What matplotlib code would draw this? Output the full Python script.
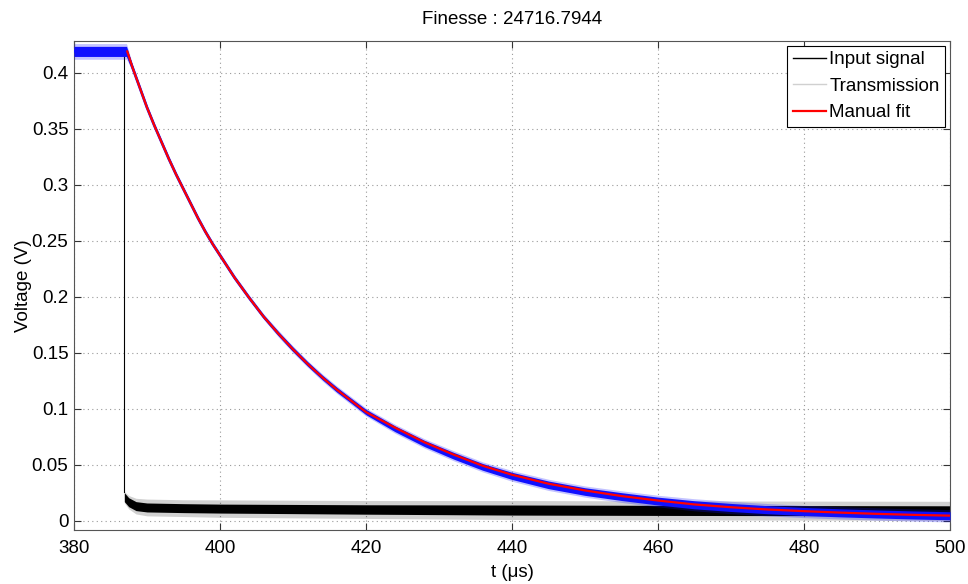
import matplotlib
matplotlib.use("Agg")
import matplotlib.pyplot as plt
from matplotlib.lines import Line2D
import numpy as np

plt.rcParams['font.family'] = ['Liberation Sans', 'DejaVu Sans']

# ---- data ----
title_text = "Finesse : 24716.7944"
x_label = "t (\u03bcs)"
y_label = "Voltage (V)"
x_ticks = [380, 400, 420, 440, 460, 480, 500]
y_ticks = [0, 0.05, 0.1, 0.15, 0.2, 0.25, 0.3, 0.35, 0.4]
y_tick_labels = ["0", "0.05", "0.1", "0.15", "0.2", "0.25", "0.3", "0.35", "0.4"]
legend_labels = ["Input signal", "Transmission", "Manual fit"]

# Manual fit (red)
fit_t = [387.3, 388, 389, 390, 391, 392, 393, 394, 395, 396, 397, 398, 399, 400,
         402, 404, 406, 408, 410, 412, 414, 416, 418, 420, 424, 428, 432, 436,
         440, 445, 450, 455, 460, 465, 470, 475, 480, 485, 490, 495, 500]
fit_v = [0.419, 0.405, 0.387, 0.369, 0.353, 0.338, 0.323, 0.309, 0.296, 0.283,
         0.270, 0.258, 0.247, 0.237, 0.217, 0.199, 0.182, 0.167, 0.153, 0.140,
         0.128, 0.117, 0.107, 0.097, 0.083, 0.070, 0.059, 0.049, 0.041, 0.033,
         0.027, 0.022, 0.018, 0.0145, 0.012, 0.010, 0.0085, 0.0072, 0.0061,
         0.0052, 0.0045]

# Transmission (blue): centre of the noisy trace and its noise half-widths
trans_t = [380, 387.2, 388, 389, 390, 391, 392, 393, 394, 395, 396, 397, 398, 399,
           400, 402, 404, 406, 408, 410, 412, 414, 416, 418, 420, 424, 428, 432,
           436, 440, 445, 450, 455, 460, 465, 470, 475, 480, 485, 490, 495, 500]
trans_v = [0.419, 0.419, 0.405, 0.387, 0.369, 0.353, 0.338, 0.323, 0.309, 0.296,
           0.283, 0.270, 0.258, 0.247, 0.237, 0.217, 0.199, 0.182, 0.167, 0.153,
           0.140, 0.128, 0.117, 0.107, 0.097, 0.082, 0.069, 0.058, 0.048, 0.040,
           0.032, 0.026, 0.0215, 0.0175, 0.0142, 0.0118, 0.0098, 0.0082, 0.0070,
           0.0060, 0.0051, 0.0044]
trans_core = [0.0045, 0.0045, 0.002, 0.0015, 0.0015, 0.0015, 0.0015, 0.0015,
              0.0015, 0.0015, 0.0015, 0.0015, 0.0015, 0.0015, 0.0015, 0.0015,
              0.0015, 0.0015, 0.0018, 0.002, 0.002, 0.002, 0.0022, 0.0022, 0.0024,
              0.0026, 0.0028, 0.003, 0.003, 0.0032, 0.0034, 0.0034, 0.0035,
              0.0035, 0.0036, 0.0036, 0.0036, 0.0036, 0.0036, 0.0036, 0.0036,
              0.0036]
trans_spike = [0.007, 0.007, 0.003, 0.0025, 0.0025, 0.0025, 0.0025, 0.0025,
               0.0025, 0.0025, 0.0025, 0.0025, 0.0025, 0.0025, 0.0025, 0.0025,
               0.0025, 0.0025, 0.003, 0.003, 0.003, 0.0032, 0.0034, 0.0035,
               0.0036, 0.004, 0.0042, 0.0045, 0.0045, 0.0048, 0.005, 0.005,
               0.0052, 0.0052, 0.0054, 0.0055, 0.0055, 0.0055, 0.0055, 0.0055,
               0.0055, 0.0055]

# Input signal (black): step then noisy low level
input_step_t = [380, 386.85, 386.85]
input_step_v = [0.419, 0.419, 0.026]
input_t = [386.9, 387.5, 388.5, 390, 395, 400, 420, 440, 460, 480, 500]
input_v = [0.021, 0.0165, 0.0130, 0.0118, 0.0112, 0.0108, 0.0100, 0.0095,
           0.0092, 0.0090, 0.0088]
input_core = [0.004, 0.004, 0.004, 0.004, 0.004, 0.004, 0.0042, 0.0045, 0.0045,
              0.0045, 0.0045]
input_spike = [0.005, 0.006, 0.007, 0.0075, 0.0075, 0.0078, 0.008, 0.0085,
               0.0085, 0.0085, 0.0085]

# ---- drawing ----
fig = plt.figure(figsize=(9.68, 5.84), dpi=100)
ax = fig.add_axes([0.0764, 0.0925, 0.9050, 0.8373])

c_black = 'black'
c_blue = '#1010ff'
c_red = '#ff0000'

# input signal
ax.plot(input_step_t, input_step_v, color=c_black, lw=0.8, zorder=2)
iv = np.array(input_v)
ax.fill_between(input_t, iv - np.array(input_spike), iv + np.array(input_spike),
                color=c_black, alpha=0.18, lw=0, zorder=2)
ax.fill_between(input_t, iv - np.array(input_core), iv + np.array(input_core),
                color=c_black, lw=0, zorder=2)

# transmission
tv = np.array(trans_v)
ax.fill_between(trans_t, tv - np.array(trans_spike), tv + np.array(trans_spike),
                color=c_blue, alpha=0.25, lw=0, zorder=3)
ax.fill_between(trans_t, tv - np.array(trans_core), tv + np.array(trans_core),
                color=c_blue, lw=0, zorder=3)
ax.plot(trans_t, trans_v, color=c_blue, lw=2.0, zorder=3)

# fit
ax.plot(fit_t, fit_v, color=c_red, lw=1.6, zorder=4)

ax.set_xlim(380, 500)
ax.set_ylim(-0.0083, 0.4283)
ax.set_xticks(x_ticks)
ax.set_yticks(y_ticks)
ax.set_yticklabels(y_tick_labels)
ax.tick_params(direction='in', length=5, width=0.8, top=True, right=True,
               labelsize=13.5, colors='#333333', labelcolor='black')
ax.tick_params(axis='x', pad=7)
ax.tick_params(axis='y', pad=4)
ax.grid(True, linestyle=(0, (1, 3)), color='#999999', lw=0.8)
ax.set_axisbelow(True)
for s in ax.spines.values():
    s.set_color('#555555')
    s.set_linewidth(0.8)

ax.set_title(title_text, fontsize=13.5, pad=12)
ax.set_xlabel(x_label, fontsize=13.5, labelpad=5)
ax.set_ylabel(y_label, fontsize=13.5, labelpad=0)

handles = [Line2D([], [], color='black', lw=1.0),
           Line2D([], [], color='#d0d0d0', lw=1.0),
           Line2D([], [], color=c_red, lw=1.6)]
leg = ax.legend(handles, legend_labels, loc='upper right', fontsize=13.5,
                frameon=True, fancybox=False, framealpha=1, edgecolor='black',
                borderaxespad=0.25, borderpad=0.3, handlelength=1.8,
                handletextpad=0.15, labelspacing=0.5)
leg.get_frame().set_linewidth(0.8)

fig.savefig("out.png", dpi=100)
